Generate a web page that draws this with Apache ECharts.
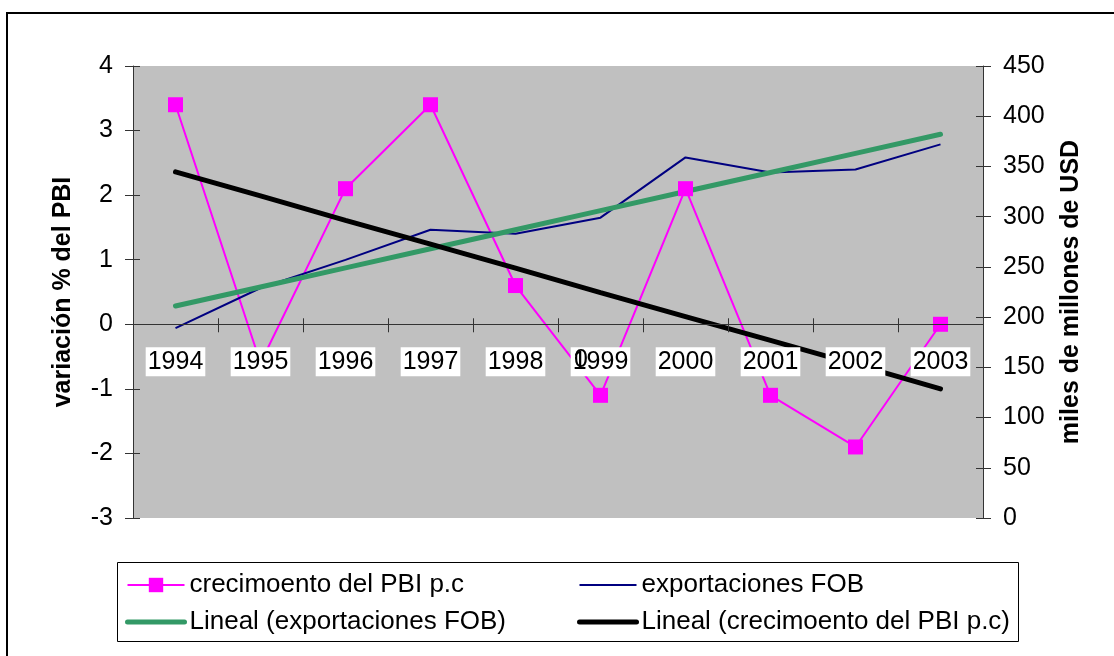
<!DOCTYPE html>
<html>
<head>
<meta charset="utf-8">
<script src="https://cdn.jsdelivr.net/npm/echarts@6/dist/echarts.min.js"></script>
<style>
html, body { margin: 0; padding: 0; background: #fff; }
#container { width: 1114px; height: 656px; }
</style>
</head>
<body>
<div id="container"></div>
<script type="text/javascript">
var years = ['1994', '1995', '1996', '1997', '1998', '1999', '2000', '2001', '2002', '2003'];
// crecimiento del PBI per capita (% variación) - eje izquierdo
var pbiList = [3.4, -0.6, 2.1, 3.4, 0.6, -1.1, 2.1, -1.1, -1.9, 0.0];
// exportaciones FOB (miles de millones USD) - eje derecho
var fobList = [189, 229, 257, 287, 283, 299, 359, 344, 347, 372];
// tendencias lineales
var fobTrendList = [211, 230, 249, 268, 287, 306, 325, 344, 363, 382];
var pbiTrendList = [2.36, 1.99, 1.61, 1.24, 0.87, 0.49, 0.12, -0.25, -0.62, -1.00];

var leftTicks = [-3, 4, 1];
var rightTicks = [0, 450, 50];

var fnt = "'Liberation Sans', Arial, sans-serif";
var axisColor = '#333';
var noSymbol = { color: 'rgba(0,0,0,0)', borderWidth: 0 };

// the category axis sits on the 0 line of the left axis
var gridTop = 66, gridBottom = 138, gridH = 656 - gridTop - gridBottom;
var zeroOffset = -gridH * (0 - leftTicks[0]) / (leftTicks[1] - leftTicks[0]);

var dom = document.getElementById("container");
var myChart = echarts.init(dom);
var option = {
    backgroundColor: '#fff',
    animation: false,
    textStyle: { fontFamily: fnt },
    grid: {
        left: 133, top: gridTop, right: 131, bottom: gridBottom,
        show: true, backgroundColor: '#C0C0C0', borderWidth: 0
    },
    legend: [
        {
            orient: 'vertical', left: 125, top: 572, padding: 0,
            itemWidth: 57, itemHeight: 18, itemGap: 11,
            textStyle: { fontSize: 26, color: '#000', fontFamily: fnt },
            data: [
                { name: 'crecimoento del PBI p.c' },
                { name: 'Lineal (exportaciones FOB)', itemStyle: noSymbol, lineStyle: { width: 5 } }
            ]
        },
        {
            orient: 'vertical', left: 577, top: 572, padding: 0,
            itemWidth: 57, itemHeight: 18, itemGap: 11,
            textStyle: { fontSize: 26, color: '#000', fontFamily: fnt },
            data: [
                { name: 'exportaciones FOB', itemStyle: noSymbol, lineStyle: { width: 2 } },
                { name: 'Lineal (crecimoento del PBI p.c)', itemStyle: noSymbol, lineStyle: { width: 5 } }
            ]
        }
    ],
    xAxis: [
        {
            type: 'category',
            data: years,
            position: 'bottom',
            offset: zeroOffset,
            z: 10,
            axisLine: { onZero: false, lineStyle: { color: axisColor, width: 1 } },
            axisTick: { show: true, length: 8, lineStyle: { color: axisColor } },
            axisLabel: {
                fontSize: 25, color: '#000', fontFamily: fnt, margin: 23,
                backgroundColor: '#fff', padding: [2, 2, 2, 2]
            },
            splitLine: { show: false }
        },
        {
            type: 'category',
            data: years,
            position: 'bottom',
            offset: zeroOffset,
            z: 10,
            axisLine: { show: false, onZero: false },
            axisTick: { show: true, inside: true, length: 6, lineStyle: { color: axisColor } },
            axisLabel: { show: false },
            splitLine: { show: false }
        }
    ],
    yAxis: [
        {
            type: 'value',
            min: leftTicks[0], max: leftTicks[1], interval: leftTicks[2],
            position: 'left',
            name: 'variación % del PBI',
            nameLocation: 'middle',
            nameGap: 57,
            nameTextStyle: { fontSize: 25, fontWeight: 'bold', color: '#000', fontFamily: fnt },
            axisLine: { show: true, onZero: false, lineStyle: { color: axisColor, width: 1 } },
            axisTick: { show: true, length: 8, lineStyle: { color: axisColor } },
            axisLabel: { fontSize: 25, color: '#000', fontFamily: fnt, margin: 20 },
            splitLine: { show: false }
        },
        {
            type: 'value',
            min: rightTicks[0], max: rightTicks[1], interval: rightTicks[2],
            position: 'right',
            name: 'miles de millones de USD',
            nameLocation: 'middle',
            nameGap: 76,
            nameRotate: 90,
            nameTextStyle: { fontSize: 25, fontWeight: 'bold', color: '#000', fontFamily: fnt },
            axisLine: { show: true, onZero: false, lineStyle: { color: axisColor, width: 1 } },
            axisTick: { show: true, length: 8, lineStyle: { color: axisColor } },
            axisLabel: { fontSize: 25, color: '#000', fontFamily: fnt, margin: 20 },
            splitLine: { show: false }
        },
        {
            type: 'value',
            min: leftTicks[0], max: leftTicks[1], interval: leftTicks[2],
            position: 'left',
            axisLine: { show: false, onZero: false },
            axisTick: { show: true, inside: true, length: 7, lineStyle: { color: axisColor } },
            axisLabel: { show: false },
            splitLine: { show: false }
        },
        {
            type: 'value',
            min: rightTicks[0], max: rightTicks[1], interval: rightTicks[2],
            position: 'right',
            axisLine: { show: false, onZero: false },
            axisTick: { show: true, inside: true, length: 7, lineStyle: { color: axisColor } },
            axisLabel: { show: false },
            splitLine: { show: false }
        }
    ],
    series: [
        {
            name: 'crecimoento del PBI p.c',
            type: 'line',
            yAxisIndex: 0,
            data: pbiList,
            symbol: 'rect',
            symbolSize: 15,
            itemStyle: { color: '#FF00FF' },
            lineStyle: { color: '#FF00FF', width: 2 }
        },
        {
            name: 'exportaciones FOB',
            type: 'line',
            yAxisIndex: 1,
            data: fobList,
            symbol: 'none',
            itemStyle: { color: '#000080' },
            lineStyle: { color: '#000080', width: 2 }
        },
        {
            name: 'Lineal (exportaciones FOB)',
            type: 'line',
            yAxisIndex: 1,
            data: fobTrendList,
            symbol: 'none',
            itemStyle: { color: '#339966' },
            lineStyle: { color: '#339966', width: 5, cap: 'round' }
        },
        {
            name: 'Lineal (crecimoento del PBI p.c)',
            type: 'line',
            yAxisIndex: 0,
            data: pbiTrendList,
            symbol: 'none',
            itemStyle: { color: '#000' },
            lineStyle: { color: '#000', width: 5, cap: 'round' }
        }
    ],
    graphic: [
        {
            type: 'rect', z: -1, silent: true,
            shape: { x: 7, y: 13, width: 1200, height: 700 },
            style: { fill: null, stroke: '#000', lineWidth: 2 }
        },
        {
            type: 'rect', z: -1, silent: true,
            shape: { x: 117.5, y: 562.5, width: 901, height: 79 },
            style: { fill: '#fff', stroke: '#000', lineWidth: 1 }
        },
        {
            type: 'text', z: 100, silent: true,
            left: 574, top: 348,
            style: { text: '0', fontSize: 25, fill: '#000', fontFamily: fnt }
        }
    ]
};

if (option && typeof option === "object") {
    myChart.setOption(option, true);
}
</script>
</body>
</html>
